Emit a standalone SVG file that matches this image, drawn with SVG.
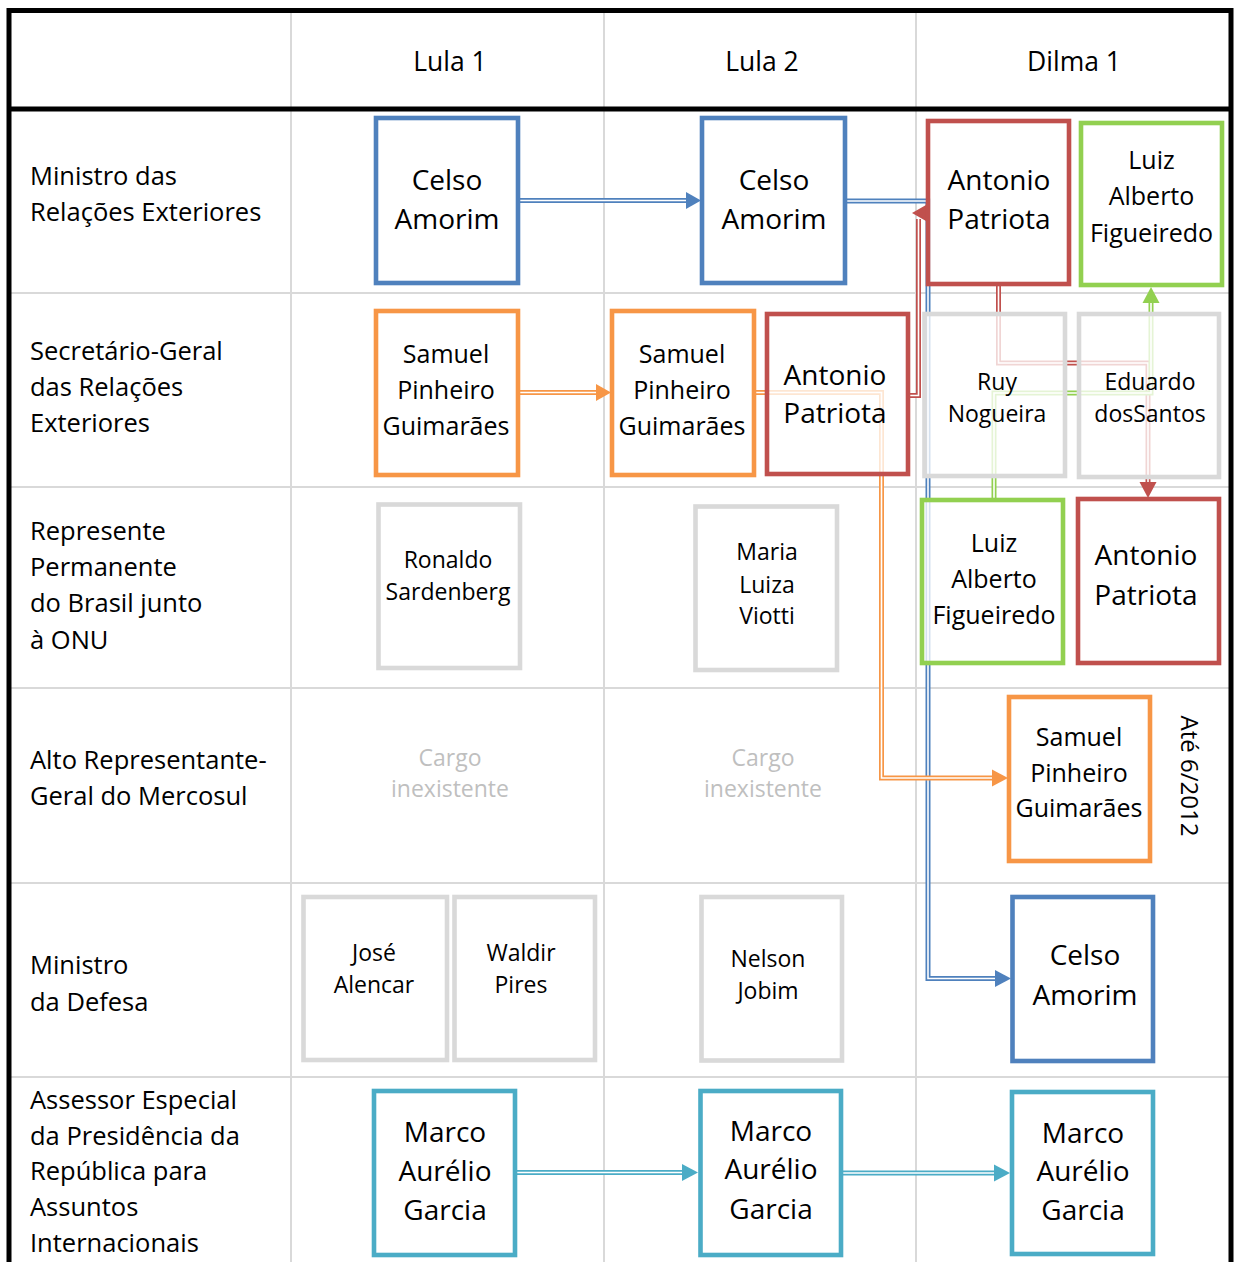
<svg xmlns="http://www.w3.org/2000/svg" xmlns:xlink="http://www.w3.org/1999/xlink" width="1234" height="1262" viewBox="0 0 1234 1262">
<style>
text{font-family:"Open Sans","Noto Sans","Liberation Sans",sans-serif;fill:#000}
.lbl{font-size:25.5px}
.hdr{font-size:26.5px;text-anchor:middle}
.big{font-size:28px;text-anchor:middle}
.mid{font-size:25px;text-anchor:middle}
.sml{font-size:23px;text-anchor:middle}
.na{font-size:23px;text-anchor:middle;fill:#bfbfbf}
.grid{stroke:#d9d9d9;stroke-width:2;fill:none}
.frame{stroke:#000;stroke-width:5;fill:none}
.node rect{fill:#fff;fill-opacity:0.76;stroke-width:4.6}
.blue rect{stroke:#4f81bd}
.red rect{stroke:#c0504d}
.orange rect{stroke:#f79646}
.green rect{stroke:#92d050}
.gray rect{stroke:#d9d9d9}
.teal rect{stroke:#4bacc6}
.o{fill:none;stroke-width:5}
.i{fill:none;stroke:#fff;stroke-width:1.6}
.cb{stroke:#4f81bd}.cr{stroke:#c0504d}.co{stroke:#f79646}.cg{stroke:#92d050}.ct{stroke:#4bacc6}
</style>
<defs>
<path id="p1" d="M518,200.5 H687"/>
<path id="p2" d="M845,201 H928 V978.5 H996"/>
<path id="p3" d="M518,392.5 H597"/>
<path id="p4" d="M754,392.5 H881.5 V778 H993"/>
<path id="p5" d="M908,395.5 H918.5 V219"/>
<path id="p6" d="M998.5,284 V363 H1148 V483"/>
<path id="p7" d="M994,500 V393 H1151 V302"/>
<path id="p8" d="M515,1172.5 H683"/>
<path id="p9" d="M841,1173 H995"/>
</defs>
<rect width="1234" height="1262" fill="#fff"/>
<g id="table">
<path class="grid" d="M291,12 V1262 M604,12 V1262 M916,12 V1262 M10,293 H1230 M10,487 H1230 M10,688 H1230 M10,883 H1230 M10,1077 H1230"/>
<path class="frame" d="M9,1262 V10.5 H1231 V1262 M9,109 H1231"/>
<text class="hdr" x="450" y="70.5">Lula 1</text>
<text class="hdr" x="762" y="70.5">Lula 2</text>
<text class="hdr" x="1074" y="70.5">Dilma 1</text>
<text class="lbl" x="30" y="184.5">Ministro das</text>
<text class="lbl" x="30" y="220.5">Relações Exteriores</text>
<text class="lbl" x="30" y="360">Secretário-Geral</text>
<text class="lbl" x="30" y="396">das Relações</text>
<text class="lbl" x="30" y="432">Exteriores</text>
<text class="lbl" x="30" y="540">Represente</text>
<text class="lbl" x="30" y="576">Permanente</text>
<text class="lbl" x="30" y="612">do Brasil junto</text>
<text class="lbl" x="30" y="648.5">à ONU</text>
<text class="lbl" x="30" y="768.5">Alto Representante-</text>
<text class="lbl" x="30" y="804.5">Geral do Mercosul</text>
<text class="lbl" x="30" y="973.5">Ministro</text>
<text class="lbl" x="30" y="1010.5">da Defesa</text>
<text class="lbl" x="30" y="1108.5">Assessor Especial</text>
<text class="lbl" x="30" y="1144.5">da Presidência da</text>
<text class="lbl" x="30" y="1179.5">República para</text>
<text class="lbl" x="30" y="1215.5">Assuntos</text>
<text class="lbl" x="30" y="1251.5">Internacionais</text>
<text class="na" x="450" y="766">Cargo</text>
<text class="na" x="450" y="797">inexistente</text>
<text class="na" x="763" y="766">Cargo</text>
<text class="na" x="763" y="797">inexistente</text>
<text font-size="24" text-anchor="middle" transform="translate(1181,776) rotate(90)">Até 6/2012</text>
</g>
<g id="connectors">
<use xlink:href="#p1" class="o cb"/><use xlink:href="#p1" class="i"/>
<polygon points="686,192 701,200.5 686,209" fill="#4f81bd"/>
<use xlink:href="#p2" class="o cb"/><use xlink:href="#p2" class="i"/>
<polygon points="995,970 1011,978.5 995,987" fill="#4f81bd"/>
<use xlink:href="#p3" class="o co"/><use xlink:href="#p3" class="i"/>
<polygon points="596,384 611,392.5 596,401" fill="#f79646"/>
<use xlink:href="#p4" class="o co"/><use xlink:href="#p4" class="i"/>
<polygon points="992,769.5 1008,778 992,786.5" fill="#f79646"/>
<use xlink:href="#p5" class="o cr"/><use xlink:href="#p5" class="i"/>
<polygon points="912,213 926,205 926,221" fill="#c0504d"/>
<use xlink:href="#p6" class="o cr"/><use xlink:href="#p6" class="i"/>
<polygon points="1139.5,482 1148,498 1156.5,482" fill="#c0504d"/>
<use xlink:href="#p7" class="o cg"/><use xlink:href="#p7" class="i"/>
<polygon points="1142.5,303 1151,287 1159.5,303" fill="#92d050"/>
<use xlink:href="#p8" class="o ct"/><use xlink:href="#p8" class="i"/>
<polygon points="682,1164 698,1172.5 682,1181" fill="#4bacc6"/>
<use xlink:href="#p9" class="o ct"/><use xlink:href="#p9" class="i"/>
<polygon points="994,1164.5 1010,1173 994,1181.5" fill="#4bacc6"/>
</g>
<g id="n-celso-l1" class="node blue"><rect x="376" y="118" width="142" height="165"/><text class="big" x="447" y="190">Celso</text><text class="big" x="447" y="229">Amorim</text></g>
<g id="n-celso-l2" class="node blue"><rect x="702" y="118" width="143" height="165"/><text class="big" x="774" y="190">Celso</text><text class="big" x="774" y="229">Amorim</text></g>
<g id="n-patriota-d-mre" class="node red"><rect x="928" y="121" width="141" height="163"/><text class="big" x="999" y="190">Antonio</text><text class="big" x="999" y="229">Patriota</text></g>
<g id="n-figueiredo-d-mre" class="node green"><rect x="1081" y="123" width="141" height="162"/><text class="mid" x="1151.5" y="168.5">Luiz</text><text class="mid" x="1151.5" y="204.5">Alberto</text><text class="mid" x="1151.5" y="241.5">Figueiredo</text></g>
<g id="n-samuel-l1" class="node orange"><rect x="376" y="311" width="142" height="164"/><text class="mid" x="446" y="363">Samuel</text><text class="mid" x="446" y="399">Pinheiro</text><text class="mid" x="446" y="435">Guimarães</text></g>
<g id="n-samuel-l2" class="node orange"><rect x="612" y="311" width="142" height="164"/><text class="mid" x="682" y="363">Samuel</text><text class="mid" x="682" y="399">Pinheiro</text><text class="mid" x="682" y="435">Guimarães</text></g>
<g id="n-patriota-l2" class="node red"><rect x="767" y="314" width="141" height="160"/><text class="big" x="835" y="384.5">Antonio</text><text class="big" x="835" y="422.5">Patriota</text></g>
<g id="n-ruy" class="node gray"><rect x="924.5" y="314" width="140.5" height="162"/><text class="sml" x="997" y="390">Ruy</text><text class="sml" x="997" y="421.5">Nogueira</text></g>
<g id="n-eduardo" class="node gray"><rect x="1079" y="314" width="140" height="163"/><text class="sml" x="1150" y="389.5">Eduardo</text><text class="sml" x="1150" y="421.5">dosSantos</text></g>
<g id="n-sardenberg" class="node gray"><rect x="378.5" y="504.5" width="141.5" height="163.5"/><text class="sml" x="448" y="567.5">Ronaldo</text><text class="sml" x="448" y="599.5">Sardenberg</text></g>
<g id="n-viotti" class="node gray"><rect x="695.5" y="506.5" width="141.5" height="163.5"/><text class="sml" x="767" y="560">Maria</text><text class="sml" x="767" y="592.5">Luiza</text><text class="sml" x="767" y="624">Viotti</text></g>
<g id="n-figueiredo-d-onu" class="node green"><rect x="922" y="500" width="141" height="163"/><text class="mid" x="994" y="551.5">Luiz</text><text class="mid" x="994" y="587.5">Alberto</text><text class="mid" x="994" y="624">Figueiredo</text></g>
<g id="n-patriota-d-onu" class="node red"><rect x="1078" y="499" width="141" height="164"/><text class="big" x="1146" y="565">Antonio</text><text class="big" x="1146" y="605">Patriota</text></g>
<g id="n-samuel-d" class="node orange"><rect x="1009" y="697" width="141" height="164"/><text class="mid" x="1079" y="746">Samuel</text><text class="mid" x="1079" y="782">Pinheiro</text><text class="mid" x="1079" y="817">Guimarães</text></g>
<g id="n-alencar" class="node gray"><rect x="303.5" y="897" width="143.5" height="163"/><text class="sml" x="374" y="961">José</text><text class="sml" x="374" y="993">Alencar</text></g>
<g id="n-pires" class="node gray"><rect x="454.5" y="897" width="140.5" height="163"/><text class="sml" x="521" y="961">Waldir</text><text class="sml" x="521" y="993">Pires</text></g>
<g id="n-jobim" class="node gray"><rect x="701.5" y="897" width="140.5" height="163.5"/><text class="sml" x="768" y="967">Nelson</text><text class="sml" x="768" y="998.5">Jobim</text></g>
<g id="n-celso-d" class="node blue"><rect x="1012.5" y="897" width="140.5" height="164"/><text class="big" x="1085" y="965">Celso</text><text class="big" x="1085" y="1005">Amorim</text></g>
<g id="n-garcia-l1" class="node teal"><rect x="374" y="1091" width="141" height="164"/><text class="big" x="445" y="1142">Marco</text><text class="big" x="445" y="1180.5">Aurélio</text><text class="big" x="445" y="1220">Garcia</text></g>
<g id="n-garcia-l2" class="node teal"><rect x="700.5" y="1091" width="140.5" height="164"/><text class="big" x="771" y="1140.5">Marco</text><text class="big" x="771" y="1179">Aurélio</text><text class="big" x="771" y="1218.5">Garcia</text></g>
<g id="n-garcia-d" class="node teal"><rect x="1012" y="1092" width="141" height="162"/><text class="big" x="1083" y="1142.5">Marco</text><text class="big" x="1083" y="1181">Aurélio</text><text class="big" x="1083" y="1220">Garcia</text></g>
</svg>
